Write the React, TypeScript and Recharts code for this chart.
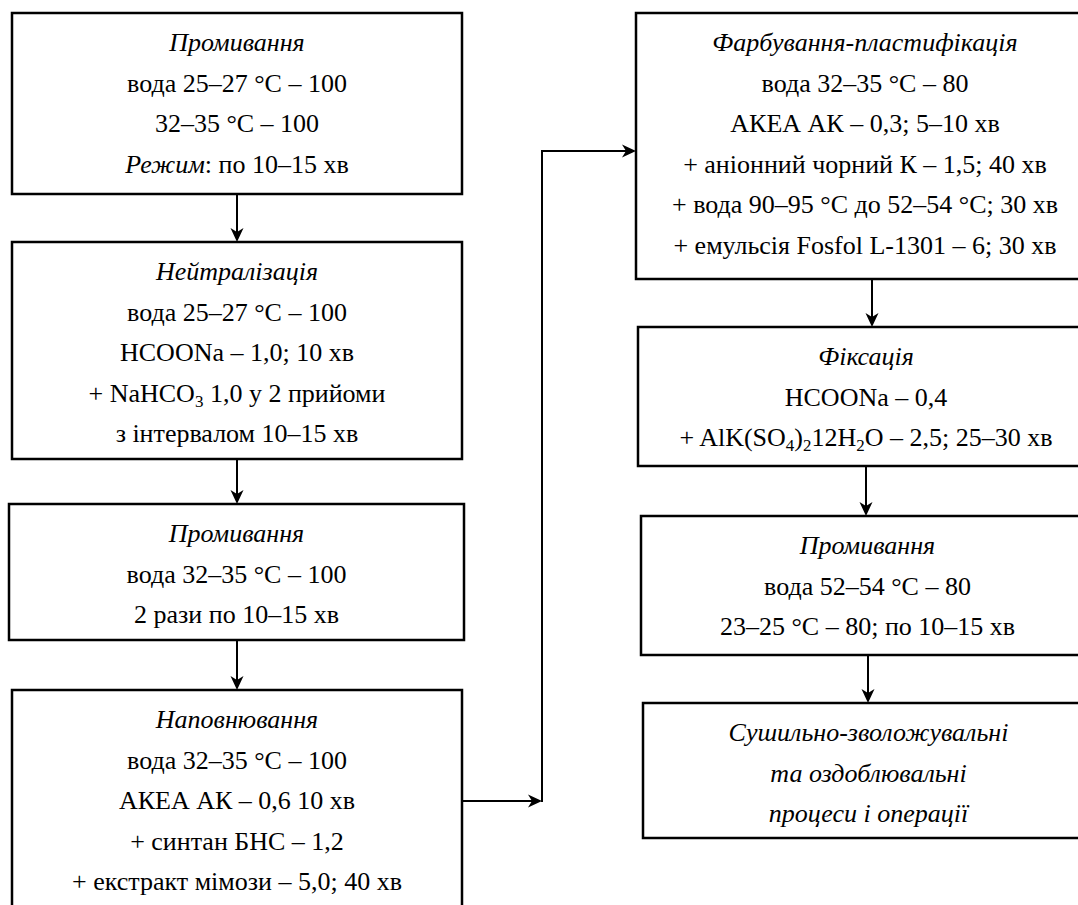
import React from 'react';
import { ComposedChart, XAxis, YAxis, ReferenceArea, ReferenceLine } from 'recharts';

// ---------- content (text of each process step) ----------
const stepTitles: string[][] = [
  ['Промивання'],
  ['Нейтралізація'],
  ['Промивання'],
  ['Наповнювання'],
  ['Фарбування-пластифікація'],
  ['Фіксація'],
  ['Промивання'],
  ['Сушильно-зволожувальні', 'та оздоблювальні', 'процеси і операції'],
];

const stepDetails: string[][] = [
  ['вода 25–27 °C – 100', '32–35 °C – 100', '*Режим*: по 10–15 хв'],
  ['вода 25–27 °C – 100', 'HCOONa – 1,0; 10 хв', '+ NaHCO~3~ 1,0 у 2 прийоми', 'з інтервалом 10–15 хв'],
  ['вода 32–35 °C – 100', '2 рази по 10–15 хв'],
  ['вода 32–35 °C – 100', 'АКЕА АК – 0,6 10 хв', '+ синтан БНС – 1,2', '+ екстракт мімози – 5,0; 40 хв'],
  [
    'вода 32–35 °C – 80',
    'АКЕА АК – 0,3; 5–10 хв',
    '+ аніонний чорний К – 1,5; 40 хв',
    '+ вода 90–95 °C до 52–54 °C; 30 хв',
    '+ емульсія Fosfol L-1301 – 6; 30 хв',
  ],
  ['HCOONa – 0,4', '+ AlK(SO~4~)~2~12H~2~O – 2,5; 25–30 хв'],
  ['вода 52–54 °C – 80', '23–25 °C – 80; по 10–15 хв'],
  [],
];

// ---------- layout (diagram coordinates, separate from content) ----------
const boxFrames = [
  { x1: 12, x2: 462, y1: 13, y2: 194 },
  { x1: 12, x2: 462, y1: 242, y2: 459 },
  { x1: 9, x2: 464, y1: 504, y2: 640 },
  { x1: 12, x2: 462, y1: 690, y2: 930 },
  { x1: 636, x2: 1094, y1: 13, y2: 279 },
  { x1: 638, x2: 1094, y1: 327, y2: 466 },
  { x1: 641, x2: 1094, y1: 516, y2: 655 },
  { x1: 643, x2: 1094, y1: 703, y2: 838 },
];

const arrowSegments = [
  { from: { x: 237, y: 194 }, to: { x: 237, y: 242 } },
  { from: { x: 237, y: 459 }, to: { x: 237, y: 504 } },
  { from: { x: 237, y: 640 }, to: { x: 237, y: 690 } },
  { from: { x: 462, y: 801 }, to: { x: 542, y: 801 } },
  { from: { x: 542, y: 151 }, to: { x: 636, y: 151 } },
  { from: { x: 872, y: 279 }, to: { x: 872, y: 327 } },
  { from: { x: 866, y: 466 }, to: { x: 866, y: 516 } },
  { from: { x: 868, y: 655 }, to: { x: 868, y: 703 } },
];

const plainSegments = [{ from: { x: 542, y: 802 }, to: { x: 542, y: 150 } }];

const W = 1078;
const H = 905;
const FONT = "'Liberation Serif', 'Times New Roman', Times, serif";
const FS = 26;

function renderRich(str: string, allItalic: boolean) {
  const parts = str.split(/(\*[^*]+\*|~[^~]+~)/).filter((p) => p.length > 0);
  const out: React.ReactNode[] = [];
  let shift = 0;
  parts.forEach((p, i) => {
    let italic = allItalic;
    let sub = false;
    let t = p;
    if (p.startsWith('*') && p.endsWith('*')) {
      italic = true;
      t = p.slice(1, -1);
    } else if (p.startsWith('~') && p.endsWith('~')) {
      sub = true;
      t = p.slice(1, -1);
    }
    const target = sub ? 5 : 0;
    const dy = target - shift;
    shift = target;
    out.push(
      <tspan
        key={i}
        dy={dy !== 0 ? dy : undefined}
        style={{
          fontFamily: FONT,
          fontStyle: italic ? 'italic' : 'normal',
          fontSize: sub ? 17 : FS,
        }}
      >
        {t}
      </tspan>
    );
  });
  return out;
}

function makeLabel(idx: number) {
  return (props: any) => {
    const vb = props.viewBox || {};
    const cx = vb.x + vb.width / 2;
    const lines = [
      ...stepTitles[idx].map((t) => ({ t, it: true })),
      ...stepDetails[idx].map((t) => ({ t, it: false })),
    ];
    return (
      <g>
        {lines.map((ln, i) => (
          <text
            key={i}
            x={cx}
            y={vb.y + 30 + 40.5 * i + 8}
            textAnchor="middle"
            style={{ fontFamily: FONT, fontSize: FS }}
            fill="#000"
          >
            {renderRich(ln.t, ln.it)}
          </text>
        ))}
      </g>
    );
  };
}

const ArrowShape = (props: any) => {
  const { x1, y1, x2, y2 } = props;
  const dx = x2 - x1;
  const dy = y2 - y1;
  const len = Math.hypot(dx, dy) || 1;
  const ux = dx / len;
  const uy = dy / len;
  const px = -uy;
  const py = ux;
  const L = 14;
  const hw = 6.5;
  const notch = 10;
  const bx = x2 - ux * L;
  const by = y2 - uy * L;
  const nx = x2 - ux * notch;
  const ny = y2 - uy * notch;
  const d = `M${x2},${y2} L${bx + px * hw},${by + py * hw} L${nx},${ny} L${bx - px * hw},${by - py * hw} Z`;
  return (
    <g>
      <line x1={x1} y1={y1} x2={nx} y2={ny} stroke="#000" strokeWidth={2} />
      <path d={d} fill="#000" stroke="none" />
    </g>
  );
};

export default function App() {
  return (
    <div style={{ position: 'absolute', left: 0, top: 0, width: W, height: H, background: '#fff' }}>
      <ComposedChart width={W} height={H} margin={{ top: 0, right: 0, bottom: 0, left: 0 }}>
        <XAxis type="number" dataKey="x" domain={[0, W]} allowDataOverflow hide />
        <YAxis type="number" dataKey="y" domain={[0, H]} allowDataOverflow reversed hide />
        {boxFrames.map((b, i) => (
          <ReferenceArea
            key={`box-${i}`}
            x1={b.x1}
            x2={b.x2}
            y1={b.y1}
            y2={b.y2}
            ifOverflow="visible"
            fill="#fff"
            fillOpacity={1}
            stroke="#000"
            strokeWidth={2.5}
            label={makeLabel(i)}
          />
        ))}
        {plainSegments.map((s, i) => (
          <ReferenceLine
            key={`seg-${i}`}
            segment={[s.from, s.to]}
            ifOverflow="visible"
            stroke="#000"
            strokeWidth={2}
          />
        ))}
        {arrowSegments.map((s, i) => (
          <ReferenceLine
            key={`arr-${i}`}
            segment={[s.from, s.to]}
            ifOverflow="visible"
            shape={ArrowShape}
          />
        ))}
      </ComposedChart>
    </div>
  );
}
